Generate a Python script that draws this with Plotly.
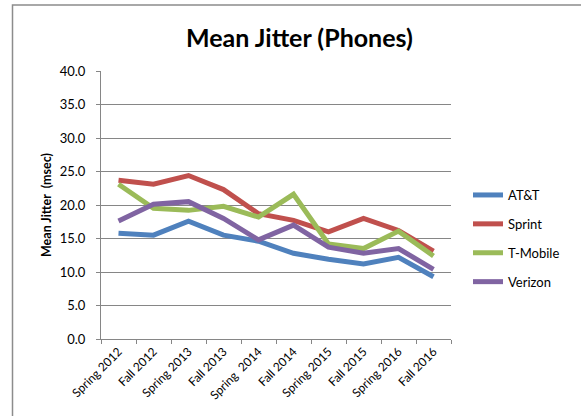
import plotly.graph_objects as go

# Survey periods (x categories)
periods = ["Spring 2012", "Fall 2012", "Spring 2013", "Fall 2013", "Spring  2014",
           "Fall 2014", "Spring 2015", "Fall 2015", "Spring 2016", "Fall 2016"]

# Mean jitter in msec for each carrier
att = [15.8, 15.5, 17.6, 15.5, 14.6, 12.8, 11.9, 11.2, 12.2, 9.3]
sprint = [23.7, 23.1, 24.4, 22.3, 18.7, 17.7, 16.0, 18.0, 16.2, 13.1]
tmobile = [23.1, 19.5, 19.2, 19.8, 18.2, 21.6, 14.2, 13.5, 16.1, 12.4]
verizon = [17.6, 20.1, 20.5, 18.0, 14.8, 17.0, 13.7, 12.8, 13.5, 10.4]

y_ticks = [0, 5, 10, 15, 20, 25, 30, 35, 40]

series = [
    ("AT&T", att, "#4F81BD"),
    ("Sprint", sprint, "#C0504D"),
    ("T-Mobile", tmobile, "#9BBB59"),
    ("Verizon", verizon, "#8064A2"),
]

FONT = "Lato, 'Open Sans', sans-serif"

fig = go.Figure()
for name, vals, color in series:
    fig.add_trace(go.Scatter(
        x=periods, y=vals, name=name, mode="lines",
        legendgroup=name,
        line=dict(color=color, width=5),
    ))

W, H = 581, 416
L, R, T, B = 101, 130, 71, 77
pw = W - L - R
ph = H - T - B


def px_x(px):
    return (px - L) / pw


def px_y(py):
    return (H - B - py) / ph


fig.update_layout(
    width=W, height=H,
    margin=dict(l=L, r=R, t=T, b=B),
    paper_bgcolor="white", plot_bgcolor="white",
    font=dict(family=FONT, color="black", size=12),
    showlegend=True,
    legend=dict(
        x=px_x(468), y=px_y(180), xanchor="left", yanchor="top",
        font=dict(family=FONT, size=13, color="black"),
        tracegroupgap=9, itemwidth=30,
        bgcolor="rgba(0,0,0,0)",
    ),
    xaxis=dict(
        type="category", categoryorder="array", categoryarray=periods,
        showgrid=False, showline=True, linecolor="#868686", linewidth=1,
        ticks="outside", ticklen=4, tickcolor="#868686", tickson="boundaries",
        tickangle=-45, tickfont=dict(family=FONT, size=12, color="black"),
        range=[-0.5, len(periods) - 0.5],
    ),
    yaxis=dict(
        range=[0, 40], tickvals=y_ticks,
        ticktext=[f"{v:.1f}" for v in y_ticks],
        showgrid=True, gridcolor="#868686", gridwidth=1,
        showline=True, linecolor="#868686", linewidth=1,
        ticks="outside", ticklen=4, tickcolor="#868686",
        tickfont=dict(family=FONT, size=13, color="black"),
        ticklabelstandoff=8,
        zeroline=False,
    ),
    shapes=[dict(
        type="rect", xref="paper", yref="paper",
        x0=px_x(12.5), x1=px_x(600), y0=px_y(430), y1=px_y(5),
        line=dict(color="#8c8c8c", width=1.5), fillcolor="rgba(0,0,0,0)",
        layer="below",
    )],
    annotations=[
        dict(text="<b>Mean Jitter (Phones)</b>", xref="paper", yref="paper",
             x=px_x(299), y=px_y(37), xanchor="center", yanchor="middle",
             showarrow=False, font=dict(family=FONT, size=25, color="black")),
        dict(text="<b>Mean Jitter  (msec)</b>", xref="paper", yref="paper",
             x=px_x(46), y=px_y(205), xanchor="center", yanchor="middle",
             textangle=-90, showarrow=False,
             font=dict(family=FONT, size=12.5, color="black")),
    ],
)

fig.write_html("out.html")
